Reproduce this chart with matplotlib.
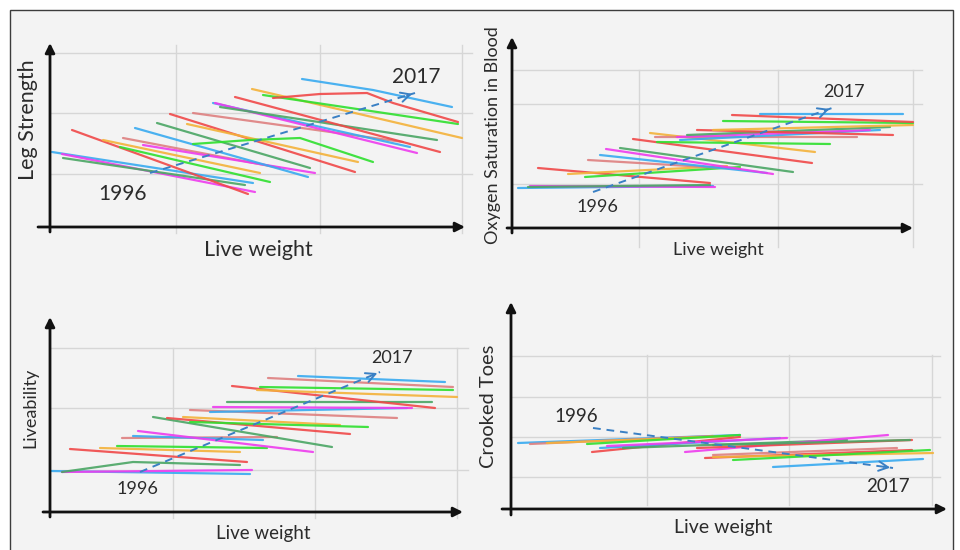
import matplotlib.pyplot as plt
from matplotlib.patches import Rectangle

plt.rcParams['font.family'] = ['Lato', 'DejaVu Sans']

RED = '#f04848'
ORANGE = '#f3b23a'
GREEN = '#2fe02f'
SALMON = '#de8080'
BLUE = '#38aaf0'
MAGENTA = '#ee3cee'
DKGREEN = '#4aa664'
TREND = '#3a80c4'

# each yearly line: (colour, live weight values, trait values)
leg_lines = [
    (BLUE, [2, 203], [75, 44]),
    (MAGENTA, [12, 205], [73, 35]),
    (DKGREEN, [13, 195], [69, 42]),
    (RED, [22, 198], [97, 33]),
    (ORANGE, [53, 210], [87, 54]),
    (GREEN, [70, 220], [80, 45]),
    (SALMON, [73, 230], [89, 59]),
    (MAGENTA, [93, 265], [82, 54]),
    (BLUE, [85, 258], [99, 50]),
    (DKGREEN, [107, 260], [104, 59]),
    (RED, [120, 305], [113, 55]),
    (SALMON, [143, 353], [114, 85]),
    (ORANGE, [137, 308], [103, 65]),
    (GREEN, [143, 200, 250, 323], [83, 87, 89, 65]),
    (BLUE, [163, 360], [124, 80]),
    (MAGENTA, [165, 367], [124, 74]),
    (DKGREEN, [170, 387], [120, 87]),
    (RED, [185, 390], [130, 75]),
    (ORANGE, [202, 412], [138, 89]),
    (GREEN, [213, 408], [132, 103]),
    (RED, [223, 270, 317, 343, 408], [129, 133, 134, 124, 105]),
    (BLUE, [252, 323, 402], [148, 137, 120]),
]

oxygen_lines = [
    (BLUE, [6, 201], [40, 42]),
    (MAGENTA, [18, 203], [42, 41]),
    (DKGREEN, [16, 198], [41, 43]),
    (RED, [26, 198], [60, 45]),
    (ORANGE, [56, 215], [54, 62]),
    (GREEN, [73, 228], [51, 61]),
    (SALMON, [76, 228], [68, 59]),
    (BLUE, [88, 255], [73, 55]),
    (MAGENTA, [94, 261], [79, 54]),
    (DKGREEN, [108, 281], [80, 56]),
    (RED, [121, 300], [89, 65]),
    (ORANGE, [138, 303], [95, 76]),
    (GREEN, [145, 318], [86, 84]),
    (SALMON, [143, 345], [91, 91]),
    (BLUE, [168, 368], [88, 98]),
    (MAGENTA, [165, 358], [91, 98]),
    (DKGREEN, [175, 378], [93, 101]),
    (RED, [185, 381], [98, 93]),
    (ORANGE, [201, 401], [98, 103]),
    (GREEN, [211, 401], [107, 105]),
    (RED, [220, 401], [113, 106]),
    (BLUE, [248, 391], [114, 114]),
]

live_lines = [
    (BLUE, [0, 200], [41, 38]),
    (MAGENTA, [12, 202], [40, 42]),
    (DKGREEN, [12, 83, 190], [40, 50, 47]),
    (RED, [20, 197], [63, 50]),
    (ORANGE, [50, 190], [64, 60]),
    (GREEN, [67, 217], [66, 64]),
    (SALMON, [72, 227], [74, 75]),
    (BLUE, [83, 213], [76, 72]),
    (MAGENTA, [88, 263], [81, 60]),
    (DKGREEN, [103, 282], [95, 65]),
    (RED, [117, 300], [94, 78]),
    (ORANGE, [133, 290], [95, 87]),
    (GREEN, [140, 318], [90, 85]),
    (SALMON, [140, 347], [102, 94]),
    (BLUE, [160, 357], [100, 104]),
    (MAGENTA, [163, 362], [105, 104]),
    (DKGREEN, [177, 382], [110, 110]),
    (RED, [182, 385], [126, 104]),
    (ORANGE, [207, 407], [122, 115]),
    (GREEN, [210, 403], [125, 122]),
    (SALMON, [218, 403], [134, 125]),
    (BLUE, [248, 395], [136, 130]),
]

toes_lines = [
    (BLUE, [7, 229], [66, 74]),
    (SALMON, [19, 202], [65, 73]),
    (ORANGE, [36, 222], [66, 73]),
    (GREEN, [76, 229], [65, 74]),
    (RED, [81, 229], [57, 72]),
    (BLUE, [89, 269], [61, 71]),
    (MAGENTA, [96, 276], [63, 71]),
    (DKGREEN, [112, 336], [61, 69]),
    (MAGENTA, [174, 377], [57, 74]),
    (RED, [186, 401], [61, 69]),
    (DKGREEN, [202, 399], [64, 69]),
    (RED, [194, 401], [51, 59]),
    (ORANGE, [202, 422], [52, 56]),
    (GREEN, [222, 419], [49, 59]),
    (SALMON, [202, 386], [54, 61]),
    (BLUE, [262, 412], [42, 50]),
]

titles = ['Leg Strength', 'Oxygen Saturation in Blood', 'Liveability', 'Crooked Toes']
x_title = 'Live weight'
first_year, last_year = '1996', '2017'

# overall trend arrow from first to last year (weight, trait)
trends = [
    ([100, 365], [54, 134]),
    ([81, 320], [36, 120]),
    ([90, 330], [40, 140]),
    ([82, 382], [81, 41]),
]

# label positions (weight, trait)
first_pos = [(73, 33), (85, 21), (87, 23), (65, 93)]
last_pos = [(366, 150), (332, 136), (342, 154), (377, 23)]

grid_x = [[126, 270, 412], [127, 266, 401], [123, 265, 407], [136, 278, 421]]
grid_y = [[53, 114, 174], [44, 124, 158], [42, 104, 164], [32, 72, 112, 153]]

# layout: pixel origin of each panel's axes and the box it lives in
W, H = 960, 550
origins = [(50, 227), (512, 228), (50, 512), (511, 509)]
boxes = [(0, 0), (480, 0), (0, 275), (480, 275)]
x_ext = [(-12, 415), (-5, 401), (-7, 413), (-9, 436)]
y_ext = [(-5, 184), (-5, 191), (-5, 195), (-6, 207)]
grid_xspan = [(0, 422), (0, 410), (0, 418), (0, 429)]
grid_yspan = [(-6, 182), (-19, 158), (-6, 164), (4, 154)]
ytitle_pos = [(-22, 107), (-19, 93), (-20, 104), (-23, 103)]
xtitle_pos = [(208, -23), (206, -22), (213, -21), (212, -19)]
title_size = [15.5, 13, 13, 14.5]
xtitle_size = [15.5, 13, 13.5, 14]
year_size = [15, 13, 13, 13.5]

fig = plt.figure(figsize=(W / 100, H / 100), dpi=100)
fig.patch.set_facecolor('white')
fig.patches.append(Rectangle((10 / W, -0.05), (953 - 10) / W, 1 - 10 / H + 0.05,
                             transform=fig.transFigure, facecolor='#f3f3f3',
                             edgecolor='#3c3c3c', lw=1.0, zorder=-10))

all_lines = [leg_lines, oxygen_lines, live_lines, toes_lines]

for i in range(4):
    bx, by = boxes[i]
    ox, oy = origins[i]
    ax = fig.add_axes([bx / W, 1 - (by + 275) / H, 480 / W, 275 / H])
    ax.set_xlim(bx - ox, bx + 480 - ox)
    ax.set_ylim(oy - by - 275, oy - by)
    ax.axis('off')
    ax.patch.set_alpha(0)

    for gx in grid_x[i]:
        ax.plot([gx, gx], grid_yspan[i], color='#d6d6d6', lw=1.0, zorder=1)
    for gy in grid_y[i]:
        ax.plot(grid_xspan[i], [gy, gy], color='#d6d6d6', lw=1.0, zorder=1)

    for c, xs, ys in all_lines[i]:
        ax.plot(xs, ys, color=c, lw=1.6, alpha=0.9, solid_capstyle='round', zorder=3)

    tx, ty = trends[i]
    ax.plot(tx, ty, color=TREND, lw=1.4, ls=(0, (4, 3)), zorder=4)
    ax.annotate('', xy=(tx[1], ty[1]),
                xytext=(tx[1] - (tx[1] - tx[0]) * 0.04, ty[1] - (ty[1] - ty[0]) * 0.04),
                arrowprops=dict(arrowstyle='->', color=TREND, lw=1.4, mutation_scale=17),
                zorder=4)

    # axes with arrow heads
    ax.annotate('', xy=(x_ext[i][1], 0), xytext=(x_ext[i][0], 0),
                arrowprops=dict(arrowstyle='-|>', color='#111111', lw=2.0,
                                mutation_scale=14, shrinkA=0, shrinkB=0), zorder=5)
    ax.annotate('', xy=(0, y_ext[i][1]), xytext=(0, y_ext[i][0]),
                arrowprops=dict(arrowstyle='-|>', color='#111111', lw=2.0,
                                mutation_scale=14, shrinkA=0, shrinkB=0), zorder=5)

    ax.text(*ytitle_pos[i], titles[i], rotation=90, ha='center', va='center',
            fontsize=title_size[i], color='#2b2b2b')
    ax.text(*xtitle_pos[i], x_title, ha='center', va='center',
            fontsize=xtitle_size[i], color='#2b2b2b')
    ax.text(*first_pos[i], first_year, ha='center', va='center',
            fontsize=year_size[i], color='#2b2b2b')
    ax.text(*last_pos[i], last_year, ha='center', va='center',
            fontsize=year_size[i], color='#2b2b2b')

fig.savefig('out.png', dpi=100, facecolor='white')
